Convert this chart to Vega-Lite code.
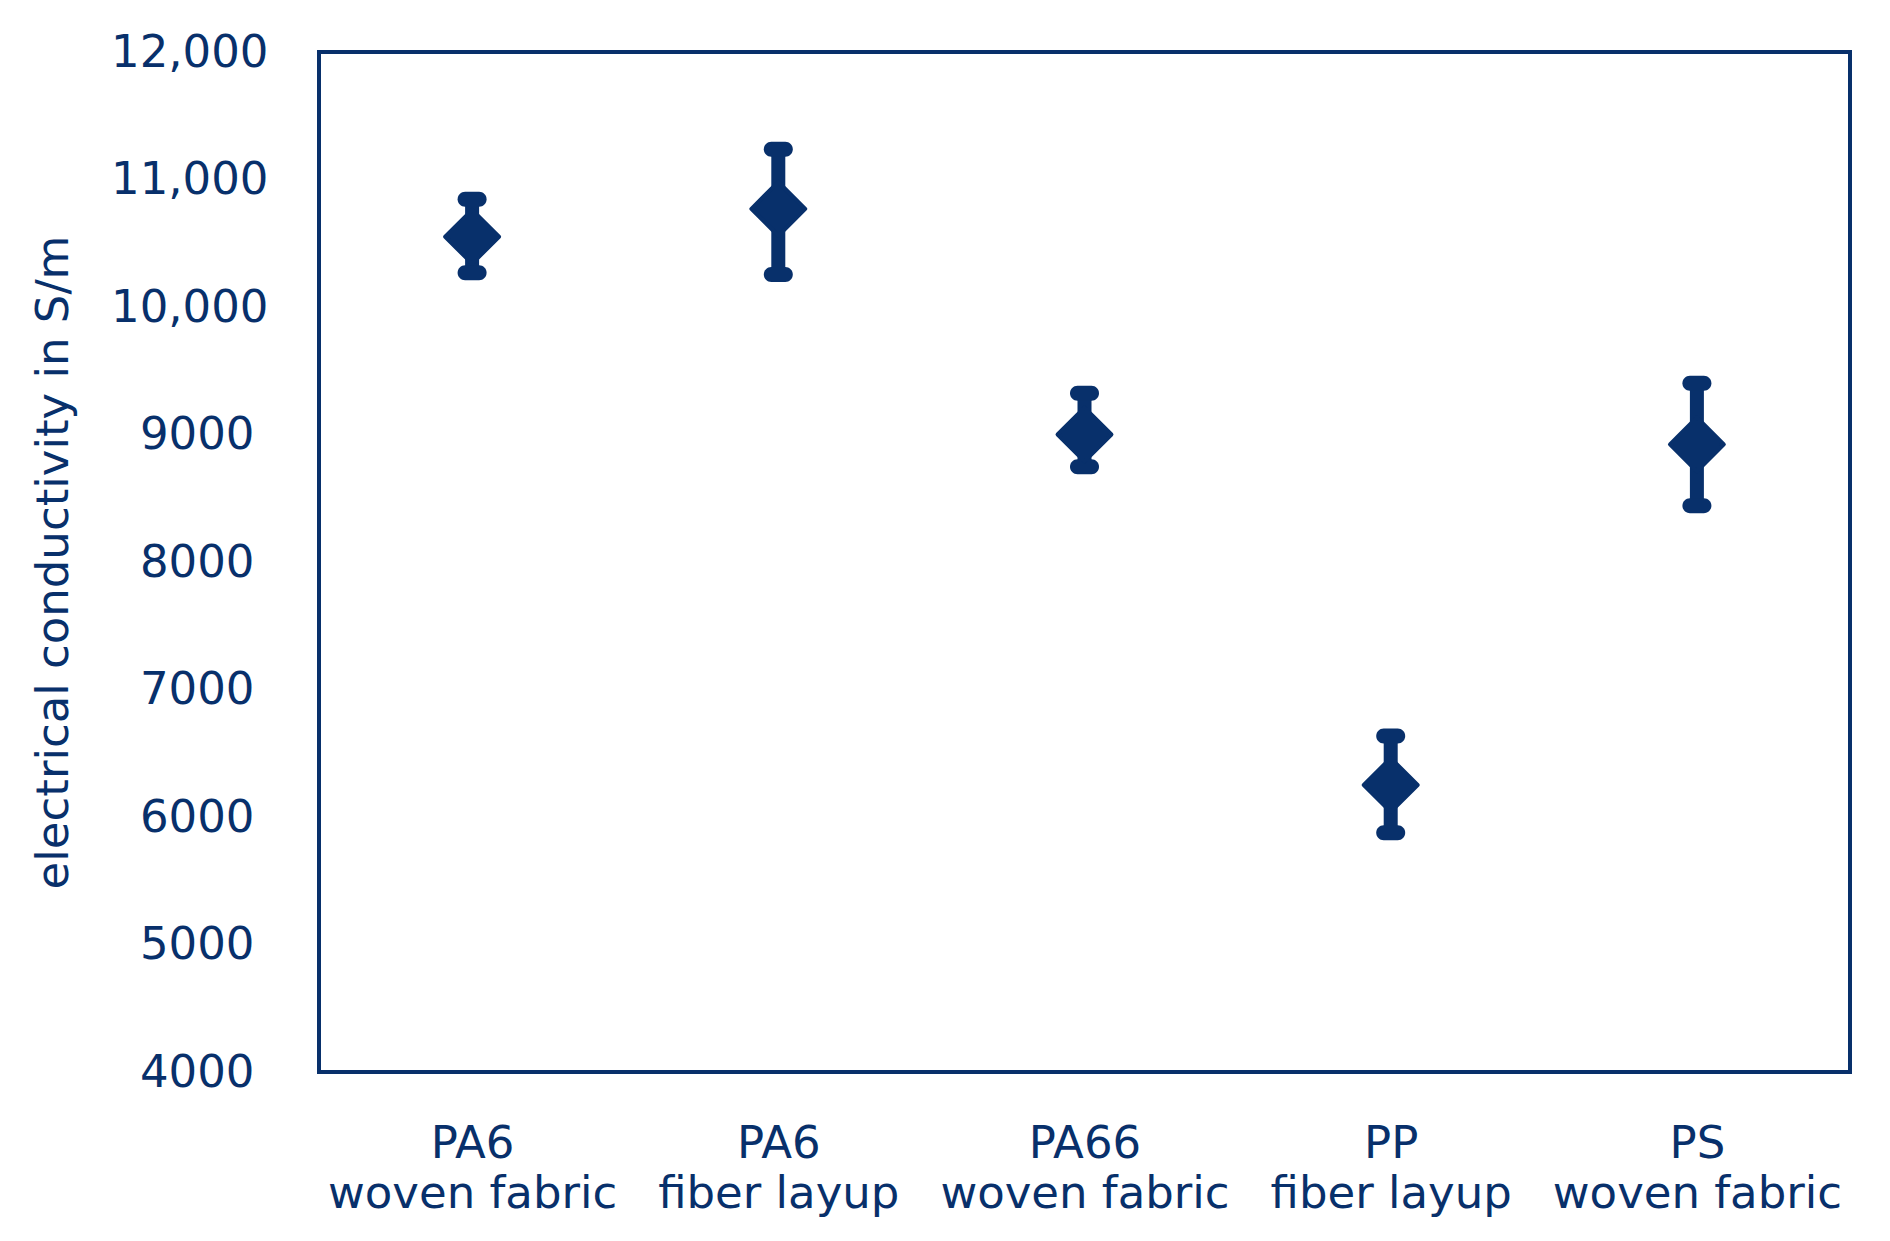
{
  "$schema": "https://vega.github.io/schema/vega-lite/v6.json",
  "autosize": {"type": "none"},
  "width": 1531,
  "height": 1020,
  "padding": {"left": 319, "top": 52, "right": 40, "bottom": 169},
  "background": "white",
  "config": {
    "view": {"stroke": "#08306b", "strokeWidth": 4},
    "font": "DejaVu Sans",
    "axis": {"domain": false, "ticks": false, "tickSize": 0, "grid": false, "labelColor": "#08306b", "titleColor": "#08306b", "labelFont": "DejaVu Sans", "titleFont": "DejaVu Sans", "labelFontSize": 45, "titleFontSize": 45, "titleFontWeight": "normal", "labelLimit": 0}
  },
  "data": {
    "values": [
      {"label": "PA6\nwoven fabric", "mean": 10551, "lo": 10269, "hi": 10845},
      {"label": "PA6\nfiber layup", "mean": 10770, "lo": 10255, "hi": 11238},
      {"label": "PA66\nwoven fabric", "mean": 9000, "lo": 8748, "hi": 9323},
      {"label": "PP\nfiber layup", "mean": 6251, "lo": 5877, "hi": 6635},
      {"label": "PS\nwoven fabric", "mean": 8923, "lo": 8442, "hi": 9402}
    ]
  },
  "encoding": {
    "x": {
      "field": "label", "type": "nominal", "sort": null,
      "scale": {"type": "point", "padding": 0.5},
      "axis": {"title": null, "labelAngle": 0, "labelPadding": 49, "labelLineHeight": 50, "labelLimit": 0, "labelExpr": "split(datum.value, '\\n')", "labelBaseline": "top"}
    }
  },
  "layer": [
    {
      "mark": {"type": "rule", "color": "#08306b", "strokeWidth": 14},
      "encoding": {
        "y": {"field": "lo", "type": "quantitative", "scale": {"domain": [4000, 12000], "nice": false, "zero": false},
          "title": "electrical conductivity in S/m",
          "axis": {"values": [4000, 5000, 6000, 7000, 8000, 9000, 10000, 11000, 12000],
            "labelPadding": {"condition": {"test": "datum.value >= 10000", "value": 51}, "value": 65},
            "titlePadding": 43,
            "labelExpr": "datum.value >= 10000 ? format(datum.value, ',') : format(datum.value, 'd')"}},
        "y2": {"field": "hi"}
      }
    },
    {
      "mark": {"type": "tick", "color": "#08306b", "size": 29, "thickness": 15, "cornerRadius": 7.5, "opacity": 1},
      "encoding": {"y": {"field": "lo", "type": "quantitative", "title": "electrical conductivity in S/m"}}
    },
    {
      "mark": {"type": "tick", "color": "#08306b", "size": 29, "thickness": 15, "cornerRadius": 7.5, "opacity": 1},
      "encoding": {"y": {"field": "hi", "type": "quantitative", "title": "electrical conductivity in S/m"}}
    },
    {
      "mark": {"type": "point", "shape": "diamond", "filled": true, "color": "#08306b", "size": 2900, "opacity": 1, "stroke": "#08306b", "strokeWidth": 4, "strokeJoin": "round"},
      "encoding": {"y": {"field": "mean", "type": "quantitative", "title": "electrical conductivity in S/m"}}
    }
  ]
}
